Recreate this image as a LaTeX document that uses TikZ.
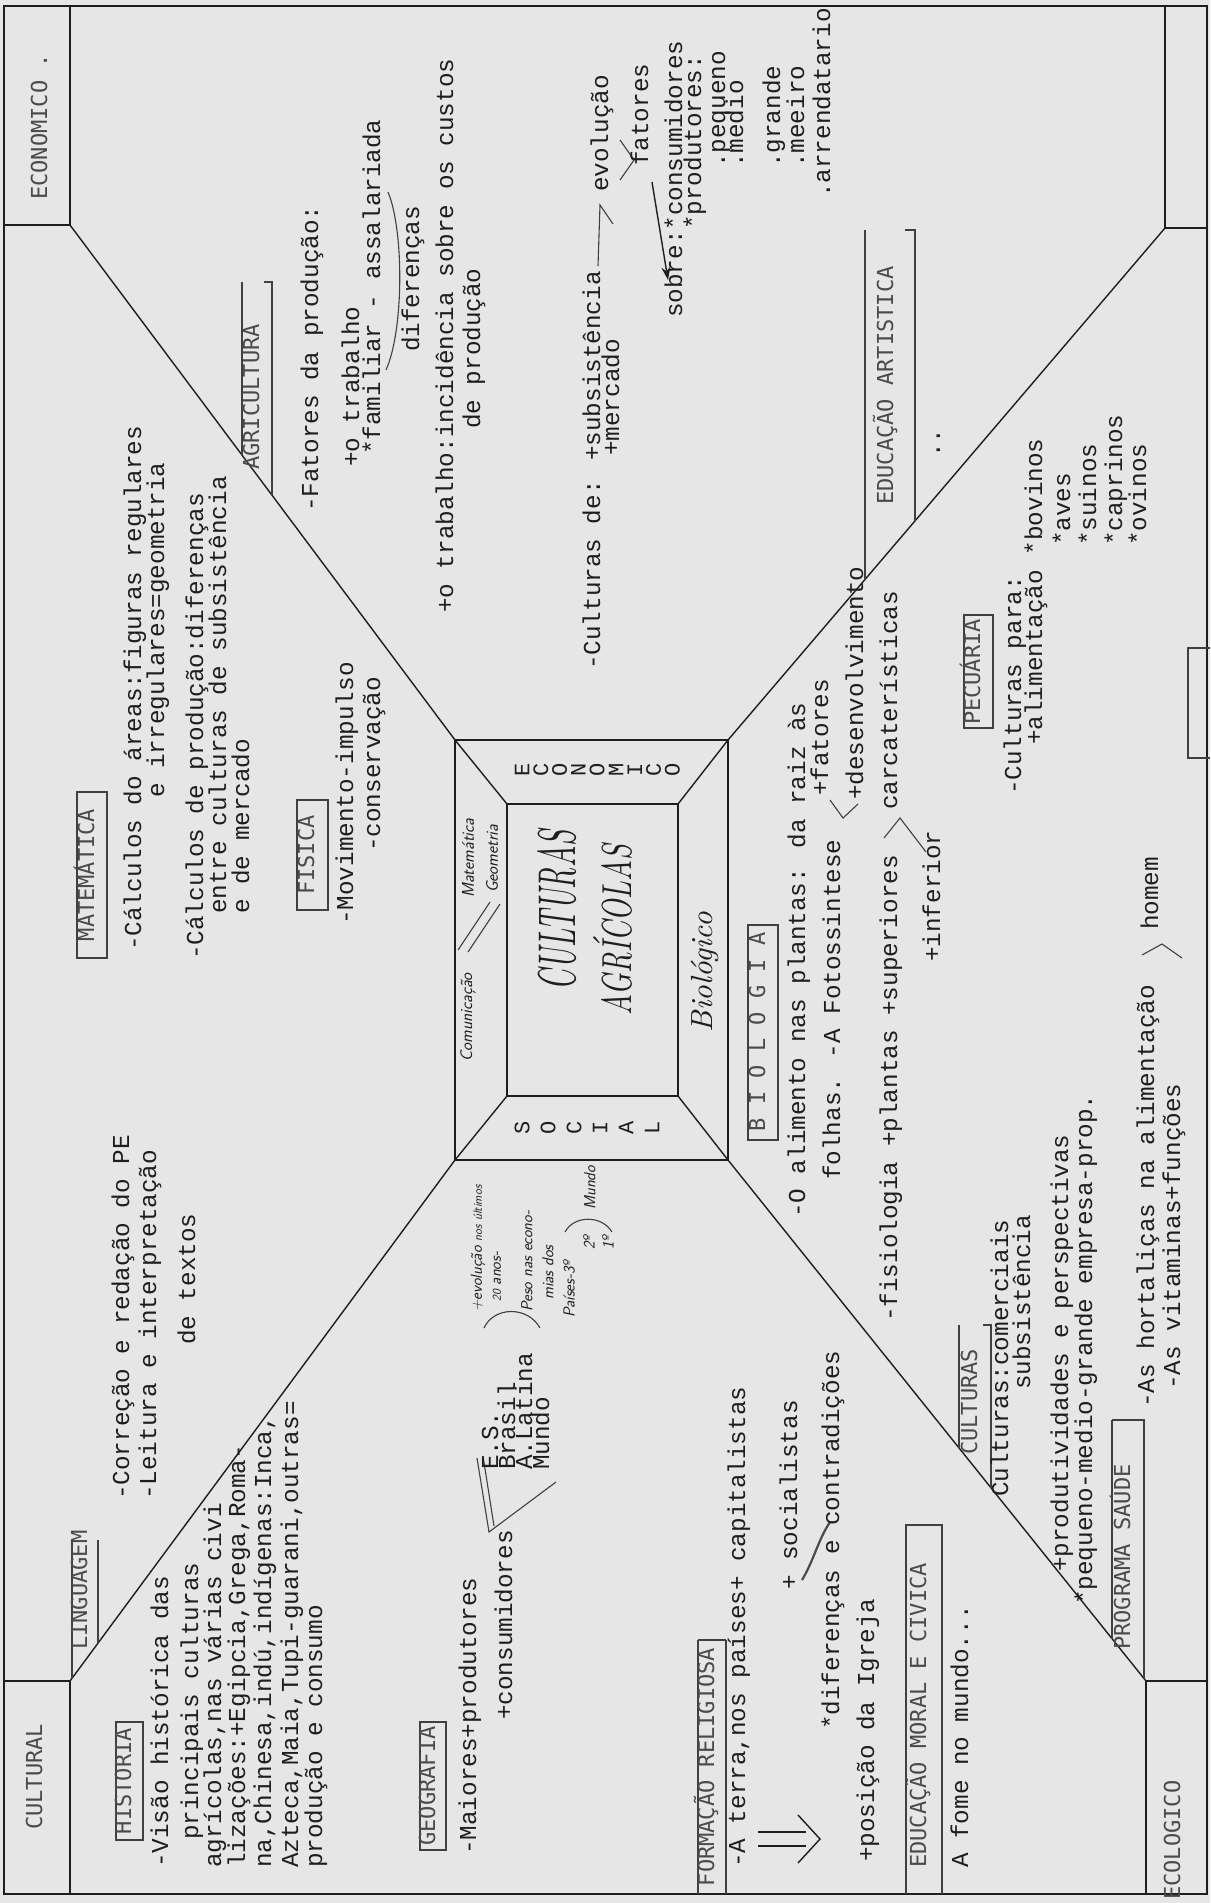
\documentclass[tikz,border=0pt]{standalone}
\usepackage{fontspec}
\usepackage{graphicx}
\usetikzlibrary{arrows.meta}
\newfontfamily\twfam{Liberation Mono}
\newfontfamily\hdfam{DejaVu Sans Mono}
\newcommand\twf{\twfam\fontsize{24.3}{26}\selectfont}
\newcommand\hdf{\hdfam\fontsize{22}{24}\selectfont}
\newcommand\hwf{\sffamily\itshape\fontsize{17}{19}\selectfont}
\newcommand\hwsf{\sffamily\itshape\fontsize{16}{18}\selectfont}
\newcommand\hwtiny{\sffamily\itshape\fontsize{12}{14}\selectfont}
\definecolor{ink}{HTML}{1E1E1E}
\definecolor{paper}{HTML}{E6E6E6}
\definecolor{hink}{HTML}{4A4A4A}
\begin{document}
\begin{tikzpicture}[x=1pt,y=-1pt,
  tw/.style={rotate=90,anchor=west,inner sep=0pt,text height=0.62em,text depth=0.18em,font=\twf,text=ink},
  hd/.style={rotate=90,anchor=center,inner sep=0pt,text height=0.62em,text depth=0.18em,font=\hdf,text=hink},
  hdw/.style={hd,anchor=west},
  hw/.style={rotate=90,anchor=west,inner sep=0pt,font=\hwf,text=ink},
  hws/.style={hw,font=\hwsf},
  letter/.style={rotate=90,inner sep=0pt,font=\twfam\fontsize{22}{22}\selectfont,text=ink},
  ln/.style={draw=ink,line width=1.4pt},
  hline/.style={draw=ink!85,line width=1.1pt},
  pageframe/.style={draw=ink,line width=1.8pt}]

\fill[paper] (0,0) rectangle (1210,1903);
\useasboundingbox (0,0) rectangle (1210,1903);
\clip (0,0) rectangle (1210,1903);

% page frame
\draw[pageframe] (4,6) rectangle (1207,1894);

% corner boxes
\coordinate (cTL) at (70,225);
\coordinate (cTR) at (1165,228);
\coordinate (cBL) at (70,1681);
\coordinate (cBR) at (1146,1681);
\draw[ln] (70,6) -- (cTL) -- (4,225);
\draw[ln] (1165,6) -- (cTR) -- (1207,228);
\draw[ln] (4,1681) -- (cBL) -- (70,1894);
\draw[ln] (1207,1681) -- (cBR) -- (1146,1894);

% central box
\coordinate (oTL) at (455,740);
\coordinate (oTR) at (728,740);
\coordinate (oBL) at (455,1160);
\coordinate (oBR) at (728,1160);
\coordinate (iTL) at (507,804);
\coordinate (iTR) at (678,804);
\coordinate (iBL) at (507,1096);
\coordinate (iBR) at (678,1096);
\draw[ln] (oTL) -- (oTR) -- (oBR) -- (oBL) -- cycle;
\draw[ln] (iTL) -- (iTR) -- (iBR) -- (iBL) -- cycle;
\draw[ln] (oTL) -- (iTL) (oTR) -- (iTR) (oBL) -- (iBL) (oBR) -- (iBR);
\draw[ln] (cTL) -- (oTL) (cTR) -- (oTR) (cBL) -- (oBL) (cBR) -- (oBR);

% corner labels
\node[hdw] (lEco) at (45,200) {ECONOMICO .};
\node[hdw] (lCult) at (40,1830) {CULTURAL};
\node[hdw] (lEcol) at (1178,1900) {ECOLOGICO};

% ---------- top region (economics) ----------
\draw[hline] (242,455) -- (242,282);
\draw[hline] (272,495) -- (272,282) -- (264,282);
\node[hdw] (hAgri) at (257,470) {AGRICULTURA};
\node[tw] (t1) at (316,512) {-Fatores da produção:};
\node[tw] (t2) at (357,467) {+o trabalho};
\node[tw] (t3) at (378,455) {*familiar - assalariada};
\draw[hline] (386,370) .. controls (404,330) and (404,230) .. (388,192);
\node[tw] (t4) at (417,352) {diferenças};
\node[tw] (t5) at (451,613) {+o trabalho:incidência sobre os custos};
\node[tw] (t6) at (478,429) {de produção};
\node[tw] (t7) at (598,670) {-Culturas de: +subsistência};
\node[tw] (t8) at (617,456) {+mercado};
\draw[hline] (598,266) -- (600,205) -- (613,224);
\node[tw] (t9) at (606,192) {evolução};
\draw[hline] (620,180) -- (634,160) -- (620,140);
\node[tw] (t10) at (646,166) {fatores};
\draw[ln,-{Stealth[length=13pt,width=9pt]}] (652,182) -- (668,280);
\node[tw] (t11) at (680,318) {sobre:*consumidores};
\node[tw] (t12) at (699,230) {*produtores:};
\node[tw] (t13) at (723,168) {.pequeno};
\node[tw] (t14) at (741,168) {.medio};
\node[tw] (t15) at (778,168) {.grande};
\node[tw] (t16) at (802,168) {.meeiro};
\node[tw] (t17) at (828,198) {.arrendatario};
\draw[hline] (865,580) -- (865,230);
\draw[hline] (915,521) -- (915,230) -- (905,230);
\node[hdw] (hEA) at (891,505) {EDUCAÇÃO ARTISTICA};
\node[tw] (t18) at (938,458) {..};

% ---------- left region (communication / mathematics) ----------
\draw[hline] (72,1678) -- (72,1540);
\draw[hline] (98,1643) -- (98,1540);
\node[hdw] (hLing) at (85,1650) {LINGUAGEM};
\node[tw] (t19) at (127,1500) {-Correção e redação do PE};
\node[tw] (t20) at (154,1500) {-Leitura e interpretação};
\node[tw] (t21) at (193,1345) {de textos};
\draw[hline] (77,792) rectangle (107,958);
\node[hd] (hMat) at (92,875) {MATEMÁTICA};
\node[tw] (t22) at (139,951) {-Cálculos do áreas:figuras regulares};
\node[tw] (t23) at (162,798) {e irregulares=geometria};
\node[tw] (t24) at (201,960) {-Cálculos de produção:diferenças};
\node[tw] (t25) at (224,914) {entre culturas de subsistência};
\node[tw] (t26) at (247,914) {e de mercado};
\draw[hline] (297,800) rectangle (328,910);
\node[hd] (hFis) at (312,855) {FISICA};
\node[tw] (t27) at (351,925) {-Movimento-impulso};
\node[tw] (t28) at (378,852) {-conservação};

% ---------- central box ----------
\node[hw] (cCom) at (468,1062) {Comunicação};
\draw[hline] (458,950) -- (490,902);
\draw[hline] (468,952) -- (500,904);
\node[hw] (cMat) at (468,898) {Matemática};
\node[hw] (cGeo) at (492,893) {Geometria};
\foreach \L [count=\i from 0] in {E,C,O,N,O,M,I,C,O}
  \node[letter] (eco\i) at ({522+18.8*\i},770) {\L};
\foreach \L [count=\i from 0] in {S,O,C,I,A,L}
  \node[letter] (soc\i) at ({522+26*\i},1128) {\L};
\node[rotate=90,inner sep=0pt,text=ink] (cCul) at (557,910)
  {\resizebox{160pt}{38pt}{\rmfamily\itshape CULTURAS}};
\node[rotate=90,inner sep=0pt,text=ink] (cAgr) at (613,930)
  {\resizebox{170pt}{38pt}{\rmfamily\itshape AGRÍCOLAS}};
\node[rotate=90,inner sep=0pt,text=ink] (cBio) at (705,972)
  {\resizebox{120pt}{!}{\rmfamily\itshape Biológico}};

% ---------- right region (biology) ----------
\draw[hline] (748,925) rectangle (778,1140);
\node[hd] (hBio) at (763,1032) {B I O L O G I A};
\node[tw] (t29) at (803,1218) {-O alimento nas plantas: da raiz às};
\node[tw] (t30) at (838,1180) {folhas. -A Fotossintese};
\draw[hline] (830,800) -- (843,818) -- (858,804);
\node[tw] (t31) at (826,796) {+fatores};
\node[tw] (t32) at (861,800) {+desenvolvimento};
\node[tw] (t33) at (895,1322) {-fisiologia +plantas +superiores};
\draw[hline] (884,838) -- (900,818) -- (926,852);
\node[tw] (t34) at (895,810) {carcaterísticas};
\node[tw] (t35) at (938,962) {+inferior};
\draw[hline] (964,615) rectangle (993,728);
\node[hd] (hPec) at (978,672) {PECUÁRIA};
\node[tw] (t36) at (1019,795) {-Culturas para:};
\node[tw] (t37) at (1040,745) {+alimentação *bovinos};
\node[tw] (t38) at (1068,546) {*aves};
\node[tw] (t39) at (1094,546) {*suinos};
\node[tw] (t40) at (1120,546) {*caprinos};
\node[tw] (t41) at (1144,546) {*ovinos};
\draw[hline] (1210,648) -- (1188,648) -- (1188,758) -- (1210,758);
\draw[hline] (959,1448) -- (959,1325);
\draw[hline] (991,1488) -- (991,1325) -- (983,1325);
\node[hdw] (hCul) at (975,1455) {CULTURAS};
\node[tw] (t42) at (1006,1497) {Culturas:comerciais};
\node[tw] (t43) at (1028,1390) {subsistência};
\node[tw] (t44) at (1066,1572) {+produtividades e perspectivas};
\node[tw] (t45) at (1090,1605) {*pequeno-medio-grande empresa-prop.};
\draw[hline] (1112,1639) -- (1112,1420);
\draw[hline] (1144,1678) -- (1144,1420) -- (1112,1420);
\node[hdw] (hPS) at (1128,1650) {PROGRAMA SAÚDE};
\node[tw] (t46) at (1152,1408) {-As hortaliças na alimentação};
\draw[hline] (1142,955) -- (1162,944) -- (1182,958);
\node[tw] (t47) at (1156,930) {homem};
\node[tw] (t48) at (1178,1390) {-As vitaminas+funções};

% ---------- bottom region (social) ----------
\draw[hline] (116,1722) rectangle (143,1840);
\node[hd] (hHist) at (129,1781) {HISTORIA};
\node[tw] (t49) at (166,1868) {-Visão histórica das};
\node[tw] (t50) at (196,1840) {principais culturas};
\node[tw] (t51) at (219,1868) {agrícolas,nas várias civi};
\node[tw] (t52) at (243,1868) {lizações:+Egipcia,Grega,Roma-};
\node[tw] (t53) at (269,1868) {na,Chinesa,indú,indígenas:Inca,};
\node[tw] (t54) at (296,1868) {Azteca,Maia,Tupi-guarani,outras=};
\node[tw] (t55) at (320,1868) {produção e consumo};
\draw[hline] (420,1722) rectangle (446,1850);
\node[hd] (hGeo) at (433,1786) {GEOGRAFIA};
\node[tw] (t56) at (474,1855) {-Maiores+produtores};
\node[tw] (t57) at (510,1720) {+consumidores};
\draw[hline] (477,1458) -- (489,1532) -- (556,1482);
\draw[hline] (483,1456) -- (494,1526);
\node[tw] (t58) at (496,1470) {E.S.};
\node[tw] (t59) at (513,1470) {Brasil};
\node[tw] (t60) at (530,1470) {A.Latina};
\node[tw] (t61) at (547,1470) {Mundo};
\draw[hline] (484,1328) .. controls (494,1306) and (528,1306) .. (540,1328);
\node[hw,font=\hwsf] (h1) at (478,1312) {+evolução {\hwtiny nos últimos}};
\node[hws] (h2) at (497,1302) {{\hwtiny 20} anos-};
\node[hws] (h3) at (527,1312) {Peso nas econo-};
\node[hws] (h4) at (548,1300) {mias dos};
\node[hws] (h5) at (569,1318) {Países-3º};
\node[hws] (h6) at (589,1250) {2º};
\node[hws] (h7) at (608,1250) {1º};
\draw[hline] (565,1232) .. controls (574,1215) and (602,1215) .. (612,1232);
\node[hws] (h8) at (590,1210) {Mundo};
\draw[hline] (698,1640) -- (698,1894) (726,1640) -- (726,1894) (698,1640) -- (726,1640);
\node[hd] (hFR) at (712,1767) {FORMAÇÃO RELIGIOSA};
\node[tw] (t62) at (743,1868) {-A terra,nos países+ capitalistas};
\node[tw] (t63) at (795,1590) {+ socialistas};
\draw[draw=ink!80,line width=2.2pt] (802,1580) .. controls (814,1560) and (818,1540) .. (830,1522);
\node[tw] (t64) at (837,1730) {*diferenças e contradições};
\draw[ln] (758,1832) -- (806,1832);
\draw[ln] (758,1846) -- (806,1846);
\draw[ln] (798,1815) -- (820,1839) -- (798,1863);
\node[tw] (t65) at (872,1862) {+posição da Igreja};
\draw[hline] (906,1894) -- (906,1525) -- (942,1525) -- (942,1894);
\node[hdw] (hEMC) at (924,1868) {EDUCAÇÃO MORAL E CIVICA};
\node[tw] (t66) at (966,1868) {A fome no mundo...};
\end{tikzpicture}
\end{document}
